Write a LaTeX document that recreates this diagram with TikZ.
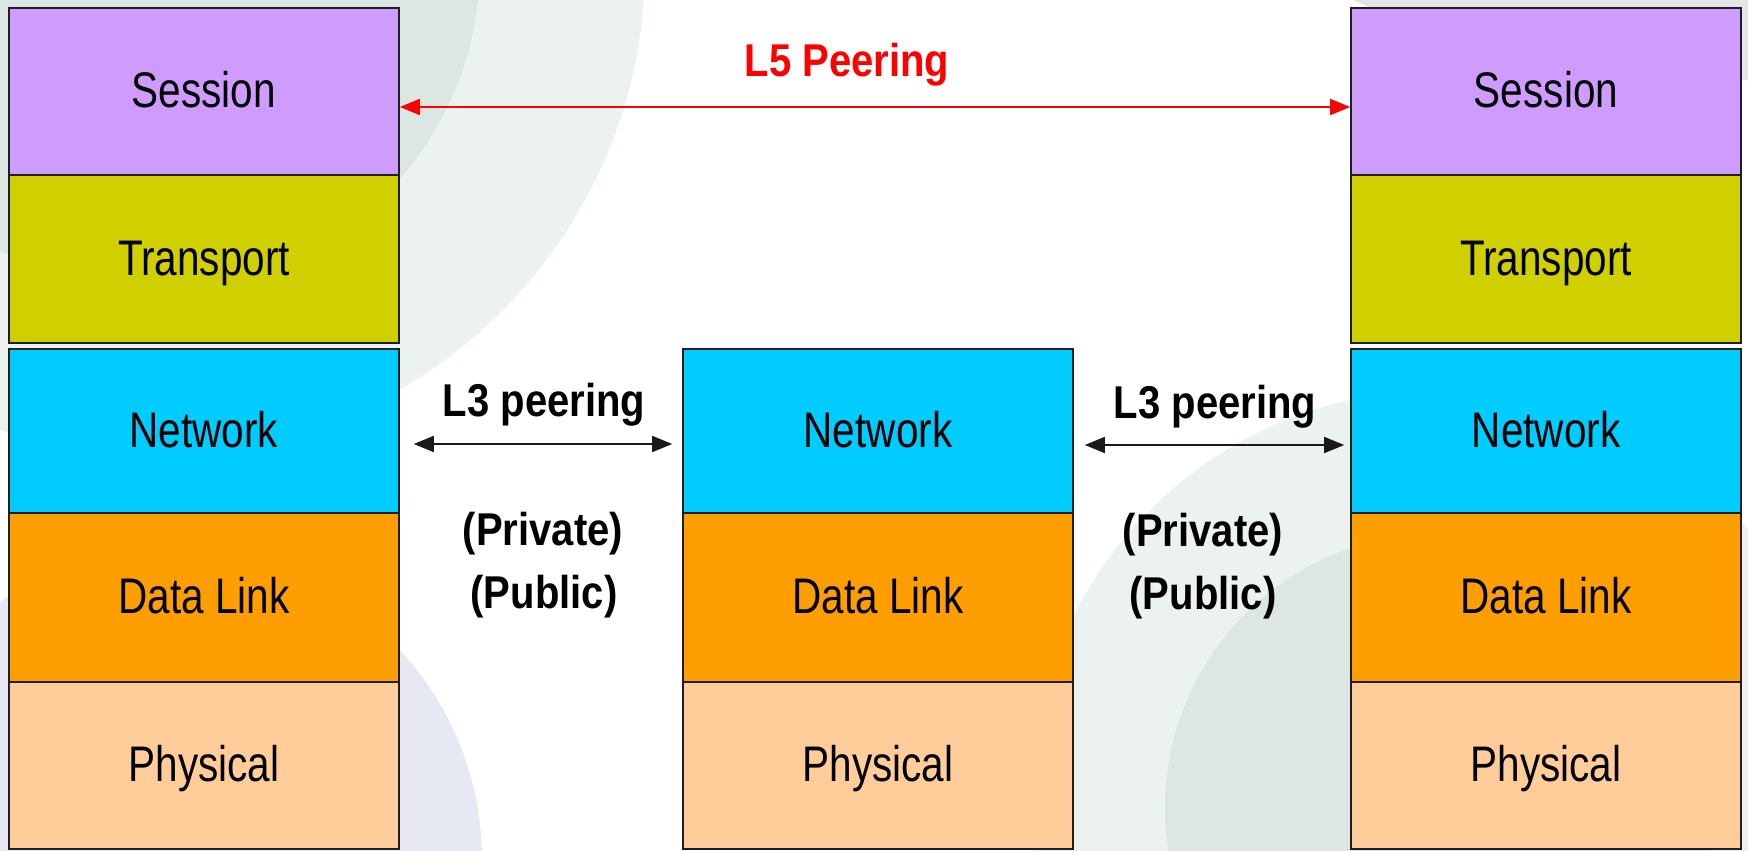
\documentclass[tikz,border=0pt]{standalone}
\usepackage{fontspec}
\setmainfont{Liberation Sans}
\newfontfamily\layerfont[FakeStretch=0.81]{Liberation Sans}
\newfontfamily\peerfont[FakeStretch=0.87]{Liberation Sans}
\usetikzlibrary{arrows.meta}

\definecolor{bgdark}{HTML}{DCE7E3}
\definecolor{bglight}{HTML}{ECF2F0}
\definecolor{bglav}{HTML}{E6E9F3}
\definecolor{bggrey}{HTML}{E5E5E5}
\definecolor{sessioncol}{HTML}{CE9CFF}
\definecolor{transportcol}{HTML}{D0D000}
\definecolor{networkcol}{HTML}{00CCFF}
\definecolor{datalinkcol}{HTML}{FF9E00}
\definecolor{physicalcol}{HTML}{FFCC9A}
\definecolor{edgecol}{HTML}{1E1E1E}

\tikzset{
  layer/.style={draw=edgecol, line width=0.8pt, minimum width=195pt,
    inner sep=0pt, text height=16pt, text depth=0pt,
    font=\layerfont\fontsize{25pt}{30pt}\selectfont},
  peerlabel/.style={anchor=base, inner sep=0pt,
    font=\peerfont\bfseries\fontsize{23pt}{28pt}\selectfont},
  l5arrow/.style={draw=red, line width=0.8pt,
    {Triangle[length=10pt,width=8pt]}-{Triangle[length=10pt,width=8pt]}},
  l3arrow/.style={draw=black!90, line width=0.8pt,
    {Triangle[length=10pt,width=8pt]}-{Triangle[length=10pt,width=8pt]}}
}

\begin{document}
\begin{tikzpicture}[x=0.5pt, y=-0.5pt]
\useasboundingbox (0,0) rectangle (1748,850);

% soft background discs
\begin{scope}
  \clip (0,0) rectangle (1748,850);
  \fill[white] (0,0) rectangle (1748,850);
  \fill[bglight] (155,-35) circle[radius=245pt];
  \fill[bgdark]  (155,-35) circle[radius=162.5pt];
  \fill[bglav]   (172,860) circle[radius=155pt];
  \fill[bggrey]  (1711,-746) circle[radius=413.5pt];
  \fill[bglight] (1440,800) circle[radius=205pt];
  \fill[bgdark]  (1440,808) circle[radius=137.5pt];
\end{scope}

% left stack
\node[layer, fill=sessioncol,   minimum height=83.5pt] (sesL) at (204,91.5)  {Session};
\node[layer, fill=transportcol, minimum height=84pt]   (trnL) at (204,259)   {Transport};
\node[layer, fill=networkcol,   minimum height=82pt]   (netL) at (204,431)   {Network};
\node[layer, fill=datalinkcol,  minimum height=84.5pt] (dlkL) at (204,597.5) {Data Link};
\node[layer, fill=physicalcol,  minimum height=83.5pt] (phyL) at (204,765.5) {Physical};

% middle stack
\node[layer, fill=networkcol,   minimum height=82pt]   (netM) at (878,431)   {Network};
\node[layer, fill=datalinkcol,  minimum height=84.5pt] (dlkM) at (878,597.5) {Data Link};
\node[layer, fill=physicalcol,  minimum height=83.5pt] (phyM) at (878,765.5) {Physical};

% right stack
\node[layer, fill=sessioncol,   minimum height=83.5pt] (sesR) at (1546,91.5)  {Session};
\node[layer, fill=transportcol, minimum height=84pt]   (trnR) at (1546,259)   {Transport};
\node[layer, fill=networkcol,   minimum height=82pt]   (netR) at (1546,431)   {Network};
\node[layer, fill=datalinkcol,  minimum height=84.5pt] (dlkR) at (1546,597.5) {Data Link};
\node[layer, fill=physicalcol,  minimum height=83.5pt] (phyR) at (1546,765.5) {Physical};

% peering rows
\coordinate (l5row) at (0,107);
\coordinate (l3rowA) at (0,444);
\coordinate (l3rowB) at (0,445);

\draw[l5arrow] (sesL.east |- l5row) -- (sesR.west |- l5row);
\draw[l3arrow, shorten <=7pt, shorten >=5pt] (netL.east |- l3rowA) -- (netM.west |- l3rowA);
\draw[l3arrow, shorten <=5.5pt, shorten >=3pt] (netM.east |- l3rowB) -- (netR.west |- l3rowB);

% labels
\node[peerlabel, text=red] (l5lab) at (847,77) {L5 Peering};
\node[peerlabel] (l3labA) at (544,416) {L3 peering};
\node[peerlabel] (privA)  at (543,545) {(Private)};
\node[peerlabel] (pubA)   at (544,608) {(Public)};
\node[peerlabel] (l3labB) at (1215,418) {L3 peering};
\node[peerlabel] (privB)  at (1203,546) {(Private)};
\node[peerlabel] (pubB)   at (1203,609) {(Public)};
\end{tikzpicture}
\end{document}
